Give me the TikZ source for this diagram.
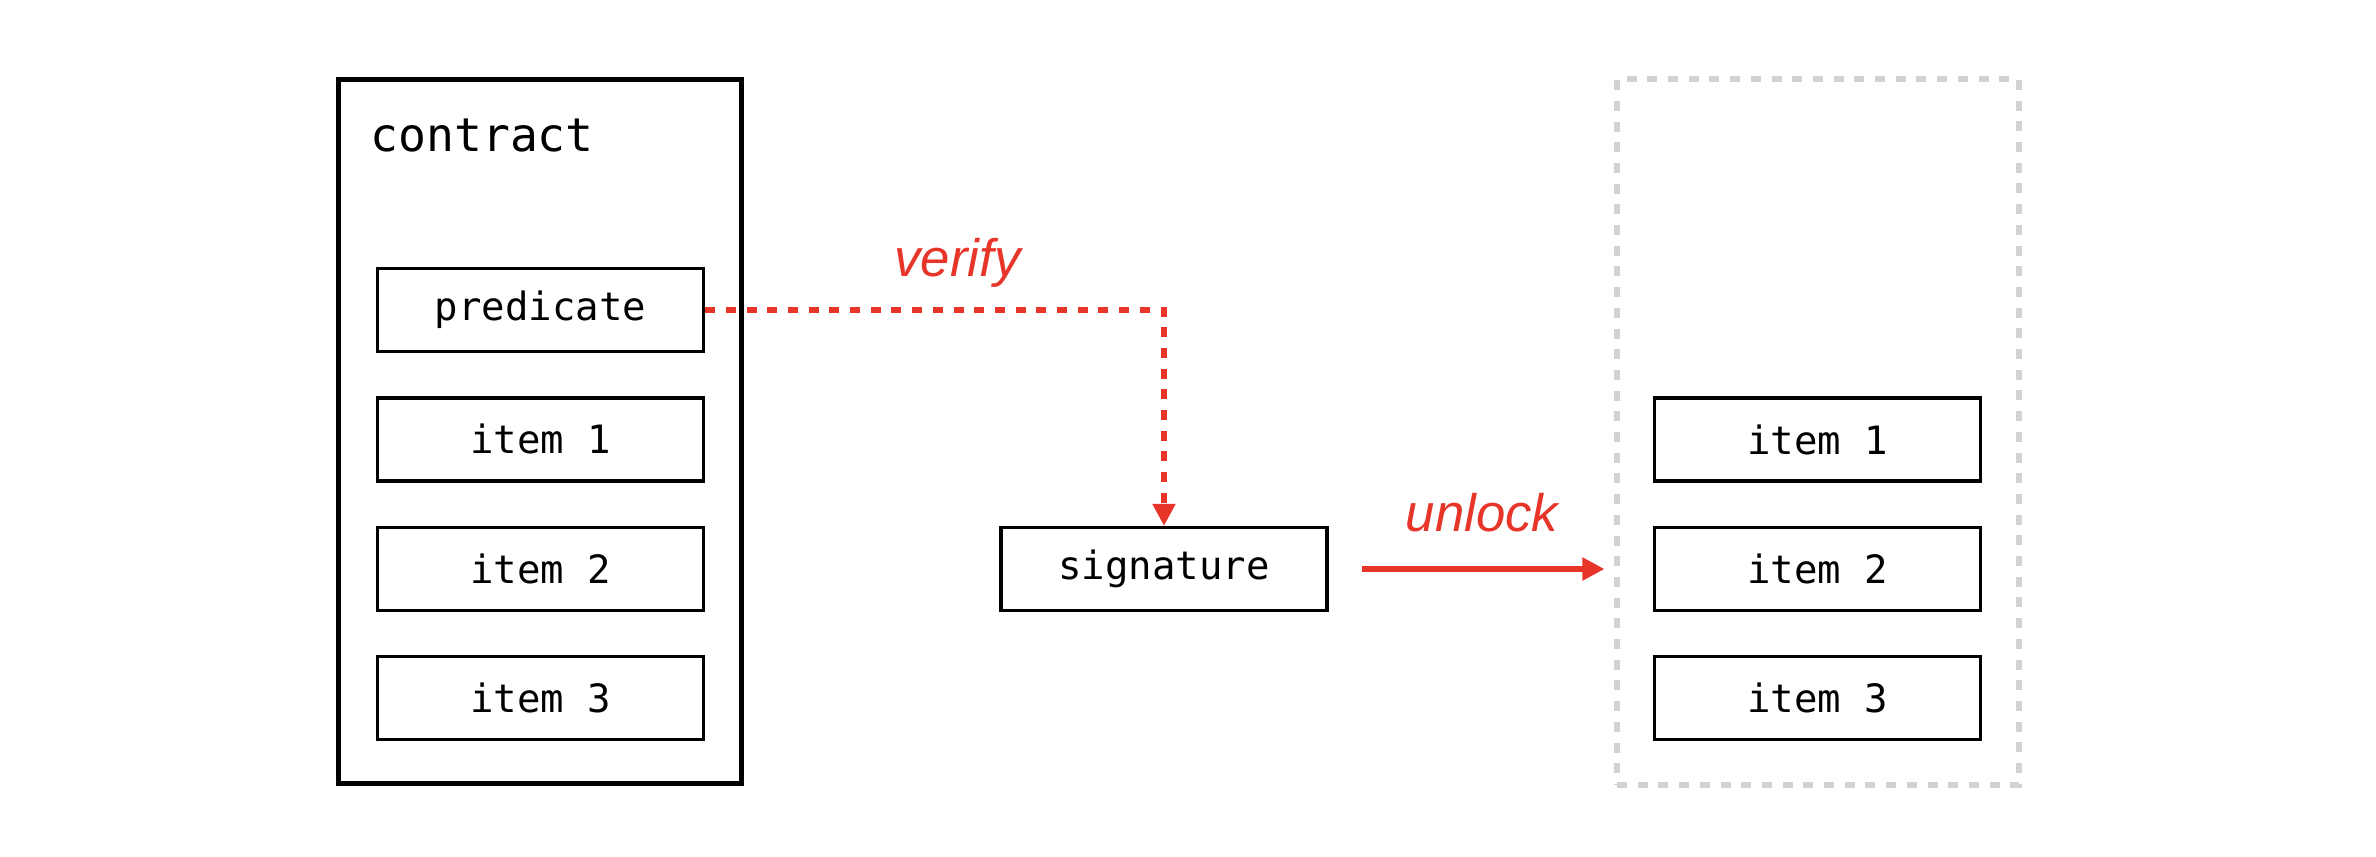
\documentclass[tikz,border=0pt]{standalone}
\usepackage{fontspec}
\setmonofont{DejaVu Sans Mono}
\newfontfamily\labelfont{Liberation Sans}
\usepackage{xcolor}
\usepackage{tikz}
\usetikzlibrary{arrows.meta, positioning, calc}

\definecolor{keyred}{HTML}{E8352A}

\begin{document}
\begin{tikzpicture}[
    font=\ttfamily,
    % Node styles
    holderbox/.style={draw, line width=1.6pt, minimum width=4.03cm, minimum height=7.04cm, inner sep=0pt},
    emptybox/.style={draw=gray!35, dash pattern=on 0.10cm off 0.107cm, line width=1.45pt, minimum width=4.02cm, minimum height=7.06cm, inner sep=0pt},
    itembox/.style={draw, line width=0.95pt, minimum width=3.26cm, minimum height=0.83cm, inner sep=0pt, font=\fontsize{11.1}{13}\selectfont\ttfamily},
    actlabel/.style={font=\fontsize{15}{18}\selectfont\labelfont\itshape, text=keyred, inner sep=0pt},
    verifyarrow/.style={-{Triangle[length=0.22cm, width=0.22cm]}, draw=keyred, line width=1.45pt, dash pattern=on 0.10cm off 0.107cm},
    unlockarrow/.style={-{Triangle[length=0.22cm, width=0.22cm]}, draw=keyred, line width=1.45pt}
]
\useasboundingbox (0,0) rectangle (23.76,8.56);

% ========== Contract ==========
\node[holderbox] (contract) at (5.40, 4.245) {};
\node[anchor=base west, inner sep=0pt, font=\fontsize{13.2}{15}\selectfont\ttfamily] (contracttitle) at ([xshift=0.34cm, yshift=-0.75cm]contract.north west) {contract};

\node[itembox] (pred) at (5.405, 5.46) {predicate};
\node[itembox, below=0.43cm of pred] (citem1) {item 1};
\node[itembox, below=0.43cm of citem1] (citem2) {item 2};
\node[itembox, below=0.43cm of citem2] (citem3) {item 3};

% ========== Signature ==========
\node[itembox] (sig) at (11.64, 2.87) {signature};

% ========== Unlocked items ==========
\node[emptybox] (vault) at (18.18, 4.24) {};
\node[itembox] (vitem1) at (18.175, 4.165) {item 1};
\node[itembox, below=0.43cm of vitem1] (vitem2) {item 2};
\node[itembox, below=0.43cm of vitem2] (vitem3) {item 3};

% ========== Labels ==========
\node[actlabel, anchor=base] (verifylbl) at (9.575, 5.795) {verify};
\node[actlabel, anchor=base] (unlocklbl) at (14.82, 3.245) {unlock};

% ========== ARROWS ==========
\draw[verifyarrow] (pred.east) -| (sig.north);
\draw[unlockarrow, shorten <=0.33cm, shorten >=0.1cm] (sig.east) -- (sig.east -| vault.west);

\end{tikzpicture}
\end{document}
